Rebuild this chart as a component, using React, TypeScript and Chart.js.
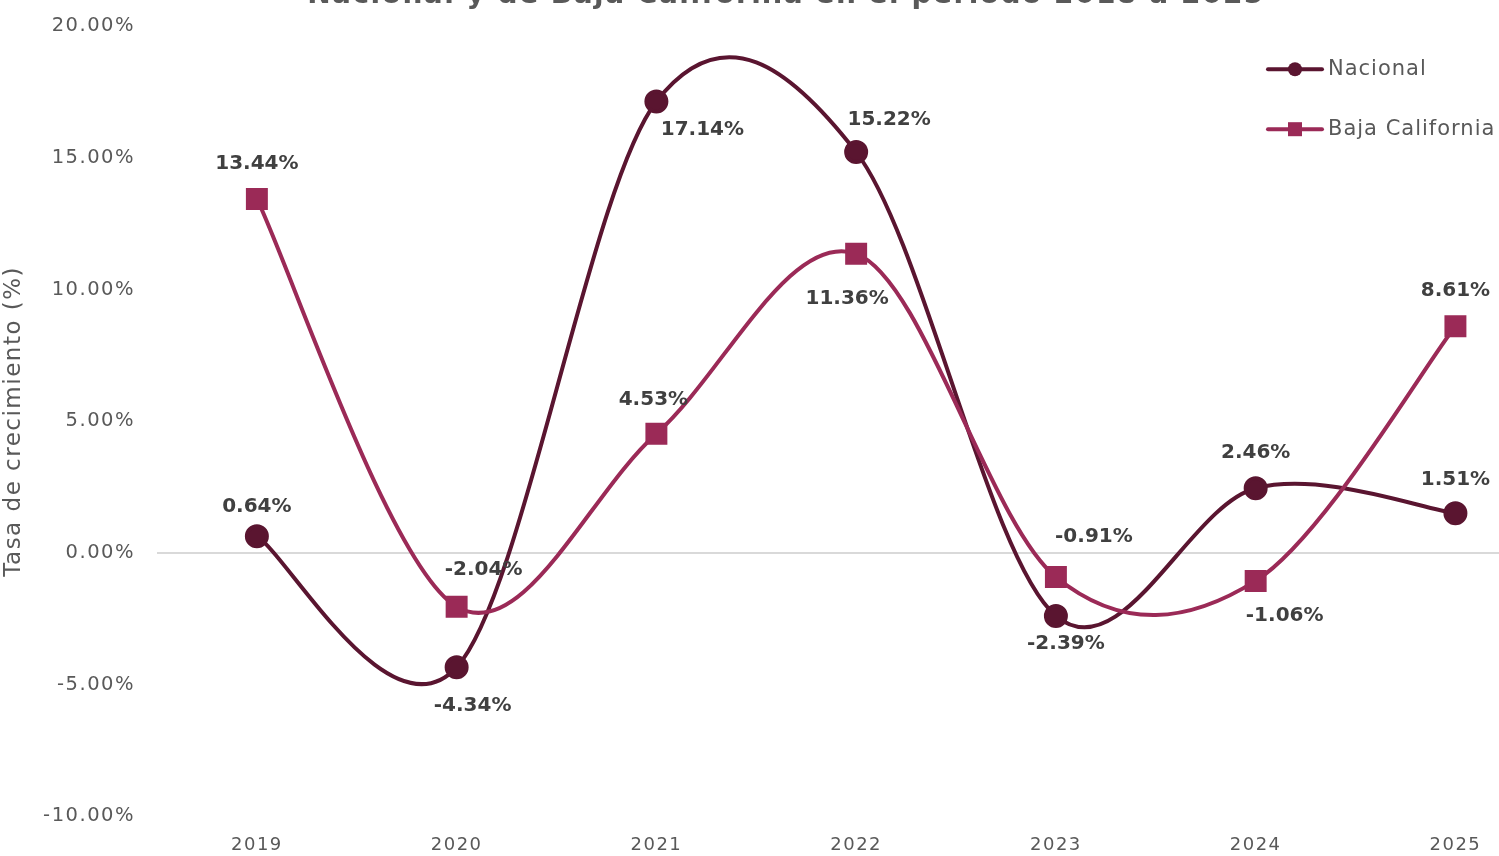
import React, { useEffect, useRef } from "react";
import { Chart, registerables } from "chart.js";

Chart.register(...registerables);

const years = ["2019", "2020", "2021", "2022", "2023", "2024", "2025"];
const nacional = [0.64, -4.34, 17.14, 15.22, -2.39, 2.46, 1.51];
const bajaCalifornia = [13.44, -2.04, 4.53, 11.36, -0.91, -1.06, 8.61];
const yTicks = [-10, -5, 0, 5, 10, 15, 20];
const titleLines = [
  "Tasa de crecimiento anual del PIB",
  "Nacional y de Baja California en el periodo 2018 a 2025",
];
const yAxisTitle = "Tasa de crecimiento (%)";
const seriesNames = ["Nacional", "Baja California"];

const NAC_COLOR = "#5a1530";
const BC_COLOR = "#9b2a57";
const TOP_SHIFT = 55;
const CANVAS_W = 1572;
const CANVAS_H = 866 + TOP_SHIFT;
const FONT = "'DejaVu Sans', sans-serif";

const nacOffsets = [[0, -29], [16, 38], [46, 28], [33, -32], [10, 28], [0, -35], [0, -33]];
const bcOffsets = [[0, -35], [27, -37], [-3, -34], [-9, 45], [38, -40], [29, 35], [0, -35]];

// Excel-like smoothing: control points from neighbours (uniform Catmull-Rom)
const smoothPlugin = {
  id: "excelSmooth",
  beforeDatasetDraw(chart: any, args: any) {
    const meta = args.meta;
    const pts = meta.data;
    const n = pts.length;
    for (let i = 0; i < n; i++) {
      const p = pts[i];
      const prev = pts[Math.max(i - 1, 0)];
      const next = pts[Math.min(i + 1, n - 1)];
      const dx = (next.x - prev.x) / 6;
      const dy = (next.y - prev.y) / 6;
      p.cp1x = p.x - dx;
      p.cp1y = p.y - dy;
      p.cp2x = p.x + dx;
      p.cp2y = p.y + dy;
    }
    if (meta.dataset) meta.dataset._pointsUpdated = true;
  },
};

const spacingPlugin = {
  id: "letterSpacing",
  beforeDraw(chart: any) {
    (chart.ctx as any).letterSpacing = "1.5px";
  },
  beforeDatasetsDraw(chart: any) {
    (chart.ctx as any).letterSpacing = "0px";
  },
};

const labelPlugin = {
  id: "valueLabels",
  afterDatasetsDraw(chart: any) {
    const ctx = chart.ctx;
    ctx.save();
    (ctx as any).letterSpacing = "0px";
    ctx.font = `bold 20px ${FONT}`;
    ctx.fillStyle = "#404040";
    ctx.textAlign = "center";
    ctx.textBaseline = "middle";
    chart.data.datasets.forEach((ds: any, di: number) => {
      const meta = chart.getDatasetMeta(di);
      const offs = ds.labelOffsets;
      meta.data.forEach((pt: any, i: number) => {
        const v = ds.data[i] as number;
        ctx.fillText(v.toFixed(2) + "%", pt.x + offs[i][0], pt.y + offs[i][1]);
      });
    });
    ctx.restore();
  },
};

const legendPlugin = {
  id: "customLegend",
  afterDraw(chart: any) {
    const ctx = chart.ctx;
    const top = chart.chartArea.top;
    const x0 = 1268;
    const items = [
      { name: seriesNames[0], color: NAC_COLOR, shape: "circle", y: top + 43 },
      { name: seriesNames[1], color: BC_COLOR, shape: "rect", y: top + 103 },
    ];
    ctx.save();
    items.forEach((it) => {
      ctx.strokeStyle = it.color;
      ctx.fillStyle = it.color;
      ctx.lineWidth = 4;
      ctx.lineCap = "round";
      ctx.beginPath();
      ctx.moveTo(x0, it.y);
      ctx.lineTo(x0 + 54, it.y);
      ctx.stroke();
      if (it.shape === "circle") {
        ctx.beginPath();
        ctx.arc(x0 + 27, it.y, 7, 0, Math.PI * 2);
        ctx.fill();
      } else {
        ctx.fillRect(x0 + 20, it.y - 7, 14, 14);
      }
      ctx.fillStyle = "#595959";
      (ctx as any).letterSpacing = "1px";
      ctx.font = `21px ${FONT}`;
      ctx.textAlign = "left";
      ctx.textBaseline = "middle";
      ctx.fillText(it.name, x0 + 60, it.y);
    });
    ctx.restore();
  },
};

export default function App() {
  const ref = useRef<HTMLCanvasElement>(null);
  useEffect(() => {
    if (!ref.current) return;
    const chart = new Chart(ref.current, {
      type: "line",
      data: {
        labels: years,
        datasets: [
          {
            label: seriesNames[0],
            data: nacional,
            borderColor: NAC_COLOR,
            backgroundColor: NAC_COLOR,
            borderWidth: 4,
            pointStyle: "circle",
            pointRadius: 10,
            pointHoverRadius: 10,
            tension: 0.4,
            capBezierPoints: false,
            order: 1,
            labelOffsets: nacOffsets,
          } as any,
          {
            label: seriesNames[1],
            data: bajaCalifornia,
            borderColor: BC_COLOR,
            backgroundColor: BC_COLOR,
            borderWidth: 4,
            pointStyle: "rect",
            pointRadius: 12.7,
            pointHoverRadius: 12.7,
            tension: 0.4,
            capBezierPoints: false,
            order: 0,
            labelOffsets: bcOffsets,
          } as any,
        ],
      },
      options: {
        animation: false,
        responsive: false,
        maintainAspectRatio: false,
        layout: { padding: { top: 0, bottom: 0, left: 0, right: 0 } },
        plugins: {
          legend: { display: false },
          tooltip: { enabled: false },
          title: {
            display: true,
            text: titleLines,
            color: "#595959",
            font: { family: FONT, size: 28, weight: "bold" },
            padding: { top: 0, bottom: 14 },
          },
        },
        scales: {
          x: {
            type: "category",
            offset: true,
            grid: { display: false },
            border: { display: false },
            ticks: { color: "#595959", font: { family: FONT, size: 18 }, padding: 10 },
          },
          y: {
            min: yTicks[0],
            max: yTicks[yTicks.length - 1],
            afterBuildTicks: (scale: any) => {
              scale.ticks = yTicks.map((v) => ({ value: v }));
            },
            afterFit: (scale: any) => {
              scale.width = 157;
            },
            grid: {
              color: (c: any) => (c.tick && c.tick.value === 0 ? "#d9d9d9" : "rgba(0,0,0,0)"),
              lineWidth: 2,
              drawTicks: false,
            },
            border: { display: false },
            ticks: {
              color: "#595959",
              font: { family: FONT, size: 19.5 },
              padding: 22,
              callback: (v: any) => Number(v).toFixed(2) + "%",
            },
            title: {
              display: true,
              text: yAxisTitle,
              color: "#595959",
              font: { family: FONT, size: 23 },
              padding: { top: 0, bottom: 0 },
            },
          },
        },
      },
      plugins: [smoothPlugin, spacingPlugin, labelPlugin, legendPlugin],
    });
    return () => chart.destroy();
  }, []);
  return (
    <div style={{ position: "fixed", left: 0, top: 0, width: 1499, height: 856, overflow: "hidden", background: "#fff" }}>
      <canvas
        ref={ref}
        width={CANVAS_W}
        height={CANVAS_H}
        style={{ position: "absolute", left: 0, top: -TOP_SHIFT, width: CANVAS_W, height: CANVAS_H }}
      />
    </div>
  );
}
